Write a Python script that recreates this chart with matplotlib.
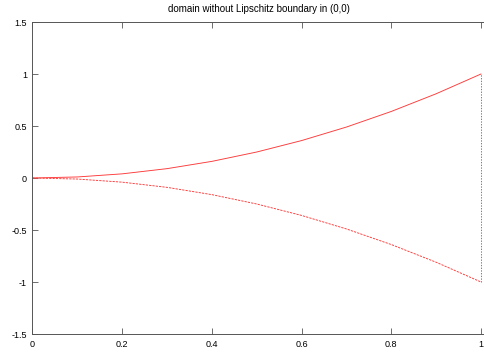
import matplotlib
matplotlib.use("Agg")
import matplotlib.pyplot as plt

# values
x_vals = [0.0, 0.1, 0.2, 0.3, 0.4, 0.5, 0.6, 0.7, 0.8, 0.9, 1.0]
upper = [0.0, 0.01, 0.04, 0.09, 0.16, 0.25, 0.36, 0.49, 0.64, 0.81, 1.0]
lower = [0.0, -0.01, -0.04, -0.09, -0.16, -0.25, -0.36, -0.49, -0.64, -0.81, -1.0]
edge_x = [1.0, 1.0]
edge_y = [-1.0, 1.0]

x_ticks = [0, 0.2, 0.4, 0.6, 0.8, 1]
x_labels = ["0", "0.2", "0.4", "0.6", "0.8", "1"]
y_ticks = [-1.5, -1, -0.5, 0, 0.5, 1, 1.5]
y_labels = ["-1.5", "-1", "-0.5", "0", "0.5", "1", "1.5"]

plt.rcParams["font.family"] = ["Liberation Sans", "DejaVu Sans"]

fig = plt.figure(figsize=(4.85, 3.53), dpi=100)
# right border of the frame falls just outside the image
ax = fig.add_axes([32.5 / 485, 19 / 353, (485.5 - 32.5) / 485, (334 - 22) / 353])

red = "#ff3838"
ax.plot(x_vals, upper, "-", color=red, lw=0.65)
ax.plot(x_vals, lower, color=red, lw=0.65, dashes=(2.5, 1.2))
ax.plot(edge_x, edge_y, color=red, lw=0.65, dashes=(1.5, 1.5))

ax.set_xlim(0, 453 / 448.5)
ax.set_ylim(-1.5, 1.5)
ax.set_xticks(x_ticks)
ax.set_xticklabels(x_labels)
ax.set_yticks(y_ticks)
ax.set_yticklabels(y_labels)
ax.tick_params(direction="in", length=4.5, width=0.6, color="#555555",
               labelsize=6.5, top=True, right=False, pad=4)
for sp in ax.spines.values():
    sp.set_color("#555555")
    sp.set_linewidth(0.7)
ax.spines["right"].set_visible(False)

ax.set_title("domain without Lipschitz boundary in (0,0)", fontsize=7, pad=7)

fig.savefig("out.png", dpi=100)
